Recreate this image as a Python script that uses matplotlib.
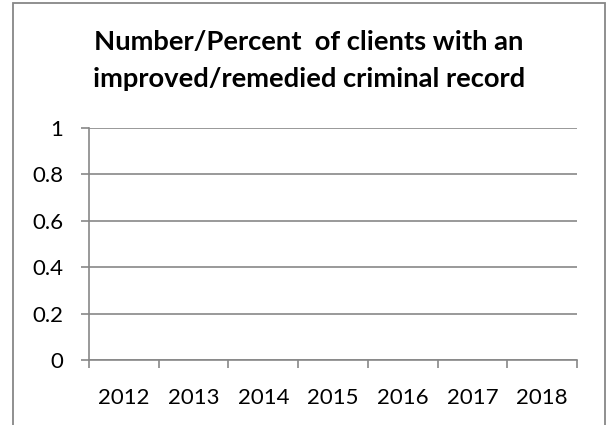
import numpy as np
import matplotlib.pyplot as plt
from matplotlib.patches import Rectangle

# chart data (the source chart has no values plotted)
years = ["2012", "2013", "2014", "2015", "2016", "2017", "2018"]
values = [None, None, None, None, None, None, None]
y_ticks = [0, 0.2, 0.4, 0.6, 0.8, 1]
y_labels = ["0", "0.2", "0.4", "0.6", "0.8", "1"]
title_lines = ["Number/Percent  of clients with an",
               "improved/remedied criminal record"]

GRAY = "#878787"
FONT = ["Lato", "DejaVu Sans"]
plt.rcParams["font.family"] = FONT

W, H = 611, 425
fig = plt.figure(figsize=(W / 100, H / 100), dpi=100)

# outer chart border (bottom edge falls off the image)
fig.patches.append(Rectangle((13 / W, -0.05), (605 - 13) / W, 1.05 - 3 / H,
                             transform=fig.transFigure, fill=False,
                             edgecolor=GRAY, linewidth=1.3))

ax = fig.add_axes([89 / W, 1 - 360 / H, (577 - 89) / W, (360 - 128) / H])

x = np.arange(len(years))
y = np.array([np.nan if v is None else v for v in values], dtype=float)
ax.plot(x, y)

ax.set_xlim(-0.5, len(years) - 0.5)
ax.set_ylim(0, 1)

ax.set_yticks(y_ticks)
ax.set_yticklabels(y_labels)
ax.set_xticks(x)
ax.set_xticklabels(years)
ax.set_xticks(np.arange(len(years) + 1) - 0.5, minor=True)

ax.tick_params(axis="x", which="major", length=0, pad=20, labelsize=16)
ax.tick_params(axis="x", which="minor", length=5.5, width=1.2, color=GRAY, direction="out")
ax.tick_params(axis="y", length=5.5, width=1.2, color=GRAY, pad=13, labelsize=16)

ax.grid(axis="y", color=GRAY, linewidth=1.2)
ax.set_axisbelow(True)
for s in ["top", "right"]:
    ax.spines[s].set_visible(False)
for s in ["left", "bottom"]:
    ax.spines[s].set_color(GRAY)
    ax.spines[s].set_linewidth(1.2)

# title, one baseline per line
for line, base in zip(title_lines, [50, 87]):
    fig.text(309 / W, 1 - base / H, line, ha="center", va="baseline",
             fontsize=19.7, fontweight="bold")

fig.savefig("out.png", dpi=100)
